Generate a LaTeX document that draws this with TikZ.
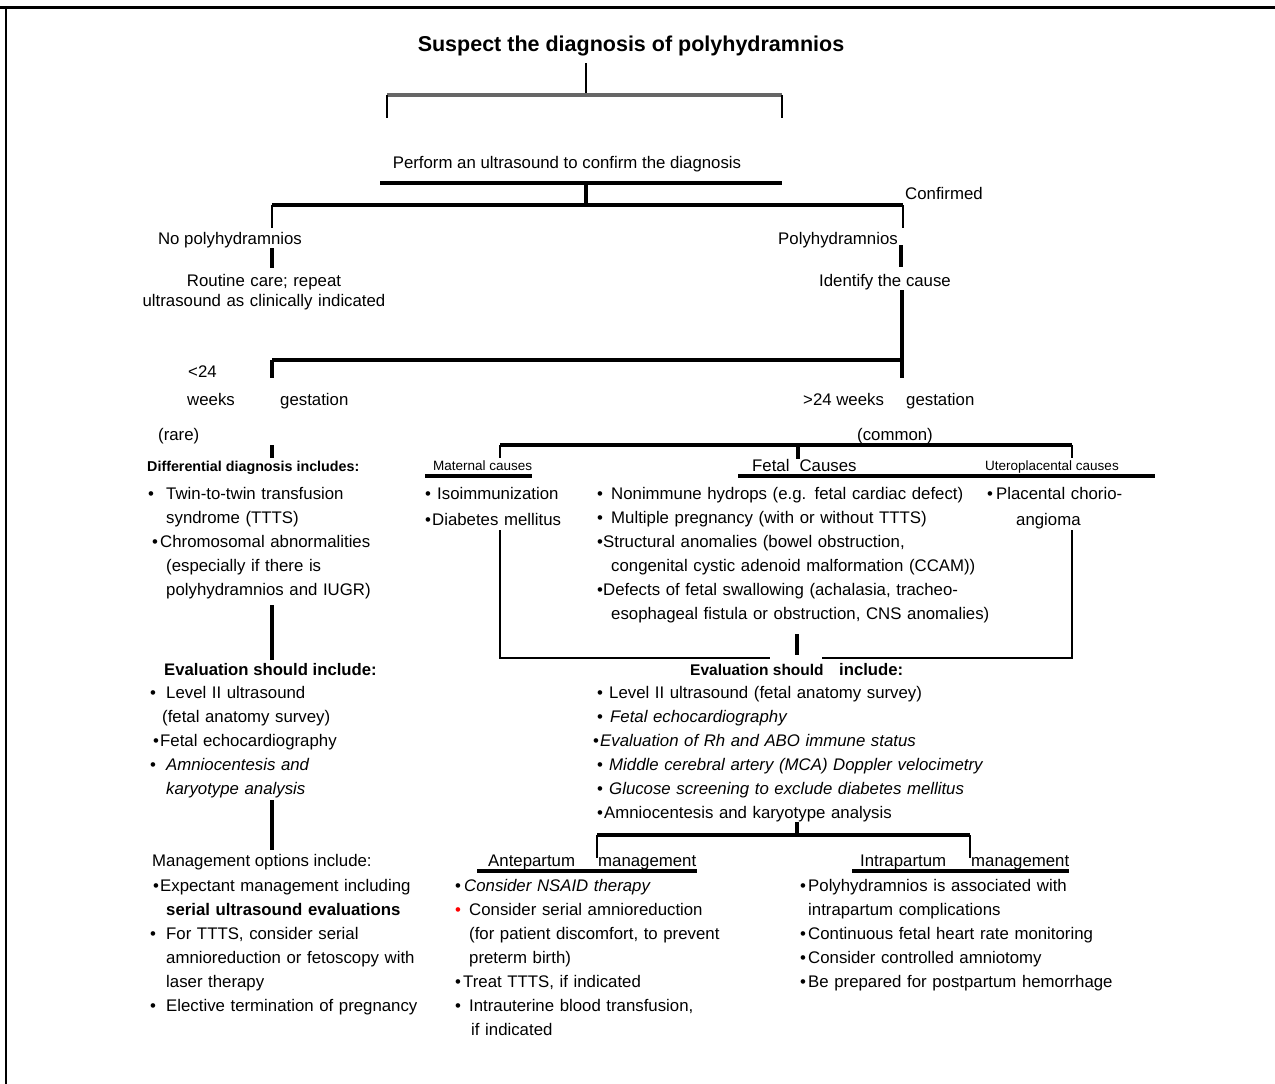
\documentclass[tikz,border=0pt]{standalone}
\usepackage{fontspec}
\setmainfont{Liberation Sans}

\newcommand{\itm}[1]{\makebox[#1][l]{\textbullet}}

\begin{document}
\begin{tikzpicture}[x=1pt,y=-1pt,
  txt/.style={font=\fontsize{16.8}{24}\selectfont, inner sep=0pt},
  lst/.style={txt, text width=#1, align=left, anchor=base west},
  hd/.style={font=\bfseries\fontsize{16.7}{20}\selectfont, inner sep=0pt, anchor=base west},
  sm/.style={font=\fontsize{13.5}{16}\selectfont, inner sep=0pt, anchor=base west},
  bar/.style={line width=3.2pt},
  heavy/.style={line width=4pt},
  slim/.style={line width=1.7pt}]

\useasboundingbox (0,0) rectangle (1275,1084);

% frame
\draw[line width=3pt] (0,7) -- (1275,7);
\draw[line width=2pt] (6,7) -- (6,1084);

\node[font=\bfseries\fontsize{21.5}{24}\selectfont, inner sep=0pt] (title) at (631,46) {Suspect the diagnosis of polyhydramnios};

\coordinate (A) at (586,63);
\coordinate (B) at (586,95);
\coordinate (BL) at (387,95);
\coordinate (BR) at (782,95);
\draw[slim] (A) -- (B);
\draw[line width=3.4pt, black!60] (BL) -- (BR);
\draw[slim] (BL) -- ++(0,23);
\draw[slim] (BR) -- ++(0,23);

\node[txt, anchor=base] (us) at (567,168) {Perform an ultrasound to confirm the diagnosis};

\coordinate (C1) at (380,183);
\coordinate (C2) at (782,183);
\coordinate (C3) at (586,183);
\coordinate (C4) at (586,205);
\coordinate (D1) at (272,205);
\coordinate (D2) at (903,205);
\draw[bar] (C1) -- (C2);
\draw[bar] (C3) -- (C4);
\draw[bar] (D1) -- (D2);
\draw[slim] (D1) -- ++(0,23);
\draw[slim] (D2) -- ++(0,23);
\node[txt, anchor=base west] (conf) at (905,199) {Confirmed};

\node[txt, anchor=base] (nopoly) at (230,244) {No polyhydramnios};
\node[txt, anchor=base] (poly) at (838,244) {Polyhydramnios};

\coordinate (E1) at (272,248);
\coordinate (E2) at (272,268);
\coordinate (F1) at (901,245);
\coordinate (F2) at (901,267);
\draw[heavy] (E1) -- (E2);
\draw[heavy] (F1) -- (F2);

\node[txt, text width=300pt, align=center, anchor=base, font=\fontsize{16.8}{20}\selectfont] (routine) at (264,286) {Routine care; repeat\\ultrasound as clinically indicated};
\node[txt, anchor=base] (cause) at (885,286) {Identify the cause};

\coordinate (G1) at (902,290);
\coordinate (G2) at (902,378);
\coordinate (H1) at (272,360);
\coordinate (H2) at (902,360);
\draw[heavy] (G1) -- (G2);
\draw[bar] (H1) -- (H2);
\draw[heavy] (H1) -- ++(0,18);

\node[txt, anchor=base west] (lt) at (188,377) {<24};
\node[txt, anchor=base west] (ltw) at (187,405) {weeks};
\node[txt, anchor=base west] (ltg) at (280,405) {gestation};
\node[txt, anchor=base west] (rare) at (158,440) {(rare)};
\node[txt, anchor=base west] (gt) at (803,405) {>24 weeks};
\node[txt, anchor=base west] (gtg) at (906,405) {gestation};
\node[txt, anchor=base] (common) at (895,440) {(common)};

\coordinate (K1) at (272,445);
\coordinate (K2) at (272,458);
\draw[heavy] (K1) -- (K2);
\node[hd, font=\bfseries\fontsize{14.3}{18}\selectfont] (diff) at (147,471) {Differential diagnosis includes:};

\coordinate (M1) at (500,445);
\coordinate (M2) at (798,445);
\coordinate (M3) at (1072,445);
\draw[bar] (M1) -- (M3);
\draw[slim] (M1) -- ++(0,13);
\draw[heavy] (M2) -- ++(0,14);
\draw[slim] (M3) -- ++(0,13);

\node[sm] (mat) at (433,470) {Maternal causes};
\node[txt, anchor=base west] (fet) at (752,471) {Fetal\hspace{10pt}Causes};
\node[sm] (utero) at (985,470) {Uteroplacental causes};
\coordinate (L1) at (425,476);
\coordinate (L2) at (532,476);
\coordinate (L3) at (738,476);
\coordinate (L4) at (1155,476);
\draw[bar] (L1) -- (L2);
\draw[bar] (L3) -- (L4);

\node[lst=300pt] (ddx) at (148,499) {\itm{18pt}Twin-to-twin transfusion\\
\hspace*{18pt}syndrome (TTTS)\\
\hspace*{4pt}\itm{8pt}Chromosomal abnormalities\\
\hspace*{18pt}(especially if there is\\
\hspace*{18pt}polyhydramnios and IUGR)};

\node[lst=200pt, font=\fontsize{16.8}{26}\selectfont] (matl) at (425,499) {\itm{12pt}Isoimmunization\\
\itm{7pt}Diabetes mellitus};

\node[lst=500pt] (fetl) at (597,499) {\itm{14pt}Nonimmune hydrops (e.g. fetal cardiac defect)\\
\itm{14pt}Multiple pregnancy (with or without TTTS)\\
\itm{6pt}Structural anomalies (bowel obstruction,\\
\hspace*{14pt}congenital cystic adenoid malformation (CCAM))\\
\itm{6pt}Defects of fetal swallowing (achalasia, tracheo-\\
\hspace*{14pt}esophageal fistula or obstruction, CNS anomalies)};

\node[lst=250pt, font=\fontsize{16.8}{26}\selectfont] (utl) at (987,499) {\itm{9pt}Placental chorio-\\
\hspace*{29pt}angioma};

\coordinate (N1) at (500,530);
\coordinate (N2) at (500,658);
\coordinate (P1) at (1072,530);
\coordinate (P2) at (1072,658);
\coordinate (Q1) at (797,634);
\coordinate (Q2) at (797,655);
\coordinate (R1) at (770,658);
\coordinate (R2) at (822,658);
\draw[slim] (N1) -- (N2) -- (R1);
\draw[slim] (R2) -- (P2) -- (P1);
\draw[heavy] (Q1) -- (Q2);

\coordinate (S1) at (272,605);
\coordinate (S2) at (272,660);
\draw[heavy] (S1) -- (S2);

\node[hd] (evl) at (164,675) {Evaluation should include:};
\node[lst=300pt] (evll) at (150,698) {\itm{16pt}Level II ultrasound\\
\hspace*{12pt}(fetal anatomy survey)\\
\hspace*{3pt}\itm{7pt}Fetal echocardiography\\
\itm{16pt}\textit{Amniocentesis and}\\
\hspace*{16pt}\textit{karyotype analysis}};

\coordinate (S3) at (272,800);
\coordinate (S4) at (272,850);
\draw[heavy] (S3) -- (S4);

\node[txt, anchor=base west] (mgmt) at (152,866) {Management options include:};
\node[lst=350pt] (mgl) at (150,891) {\hspace*{3pt}\itm{7pt}Expectant management including\\
\hspace*{16pt}\textbf{serial ultrasound evaluations}\\
\itm{16pt}For TTTS, consider serial\\
\hspace*{16pt}amnioreduction or fetoscopy with\\
\hspace*{16pt}laser therapy\\
\itm{16pt}Elective termination of pregnancy};

\node[hd, font=\bfseries\fontsize{15.5}{20}\selectfont] (evr) at (690,675) {Evaluation should};
\node[hd] (evrinc) at (839,675) {include:};
\node[lst=500pt] (evrl) at (593,698) {\hspace*{4pt}\itm{12pt}Level II ultrasound (fetal anatomy survey)\\
\hspace*{4pt}\itm{13pt}\textit{Fetal echocardiography}\\
\itm{7pt}\textit{Evaluation of Rh and ABO immune status}\\
\hspace*{4pt}\itm{12pt}\textit{Middle cerebral artery (MCA) Doppler velocimetry}\\
\hspace*{4pt}\itm{12pt}\textit{Glucose screening to exclude diabetes mellitus}\\
\hspace*{4pt}\itm{7pt}Amniocentesis and karyotype analysis};

\coordinate (U1) at (797,822);
\coordinate (U2) at (797,835);
\coordinate (V1) at (597,835);
\coordinate (V2) at (970,835);
\draw[heavy] (U1) -- (U2);
\draw[bar] (V1) -- (V2);
\draw[slim] (V1) -- ++(0,23);
\draw[slim] (V2) -- ++(0,23);

\node[txt, anchor=base west] (ante) at (488,866) {Antepartum};
\node[txt, anchor=base west] (antem) at (598,866) {management};
\node[txt, anchor=base west] (intra) at (860,866) {Intrapartum};
\node[txt, anchor=base west] (intram) at (971,866) {management};
\coordinate (W1) at (477,871);
\coordinate (W2) at (697,871);
\coordinate (W3) at (852,871);
\coordinate (W4) at (1069,871);
\draw[bar] (W1) -- (W2);
\draw[bar] (W3) -- (W4);

\node[lst=350pt] (antel) at (455,891) {\itm{9pt}\textit{Consider NSAID therapy}\\
\makebox[14pt][l]{\color{red}\textbullet}Consider serial amnioreduction\\
\hspace*{14pt}(for patient discomfort, to prevent\\
\hspace*{14pt}preterm birth)\\
\itm{8pt}Treat TTTS, if indicated\\
\itm{14pt}Intrauterine blood transfusion,\\
\hspace*{16pt}if indicated};

\node[lst=400pt] (intl) at (800,891) {\itm{8pt}Polyhydramnios is associated with\\
\hspace*{8pt}intrapartum complications\\
\itm{8pt}Continuous fetal heart rate monitoring\\
\itm{8pt}Consider controlled amniotomy\\
\itm{8pt}Be prepared for postpartum hemorrhage};

\end{tikzpicture}
\end{document}
